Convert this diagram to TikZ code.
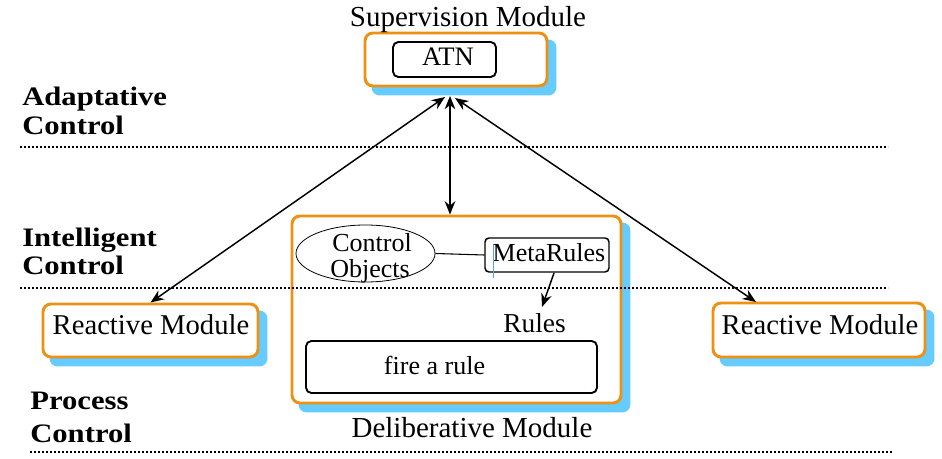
\documentclass[tikz,border=0pt]{standalone}
\usepackage{fontspec}
\setmainfont{Liberation Serif}
\usepackage{graphicx}
\usetikzlibrary{arrows.meta,backgrounds,shapes.geometric}

\definecolor{frameorange}{RGB}{238,144,18}
\definecolor{shadowblue}{RGB}{102,204,255}

\newcommand\pxfont[1]{\fontsize{#1}{#1}\selectfont}
\newcommand\levelname[1]{\scalebox{1.15}[1]{\pxfont{20pt}\bfseries #1}}

\tikzset{
  module/.style={draw=frameorange, line width=2.2pt, fill=white,
    rounded corners=6pt, inner sep=0pt},
  innerbox/.style={draw=black, line width=1.4pt, fill=white,
    rounded corners=4pt, inner sep=0pt},
  txt/.style={anchor=base, inner sep=0pt},
  level/.style={anchor=base west, inner sep=0pt},
  conn/.style={line width=1.1pt, {Stealth[length=10pt,width=8pt]}-{Stealth[length=10pt,width=8pt]}},
  levelline/.style={line width=1.4pt, dash pattern=on 1.6pt off 1.4pt},
}

\begin{document}
\begin{tikzpicture}[x=0.75pt,y=-0.75pt]
\useasboundingbox (0,0) rectangle (942,459);

% module frames
\node[module, minimum width=136.5pt, minimum height=39.75pt] (sup) at (456,59.5) {};
\node[module, minimum width=246.75pt, minimum height=140.25pt] (delib) at (456.5,309.5) {};
\node[module, minimum width=161.25pt, minimum height=39.75pt] (reactL) at (150.5,330.5) {};
\node[module, minimum width=159pt, minimum height=40.5pt] (reactR) at (819,330) {};

% blue drop shadows behind the frames
\begin{scope}[on background layer]
  \foreach \m in {sup,delib,reactL,reactR}{
    \fill[shadowblue, rounded corners=6pt]
      ([shift={(8,8)}]\m.south west) rectangle ([shift={(8,8)}]\m.north east);
  }
\end{scope}

% level separators
\draw[levelline] (20,147) -- (888,147);
\draw[levelline] (20,288) -- (888,288);
\draw[levelline] (30,452) -- (893,452);

% level names
\node[level] (adapt1) at (22,106) {\levelname{Adaptative}};
\node[level] (adapt2) at (22,135) {\levelname{Control}};
\node[level] (intel1) at (22,247) {\levelname{Intelligent}};
\node[level] (intel2) at (22,275) {\levelname{Control}};
\node[level] (proc1) at (30,409) {\levelname{Process}};
\node[level] (proc2) at (30,442) {\levelname{Control}};

% supervision module
\node[txt] (suptitle) at (468,27) {\pxfont{21.75pt}Supervision Module};
\node[innerbox, minimum width=77.25pt, minimum height=26.25pt] (atn) at (444.5,59.5) {};
\node[txt] (atntxt) at (448,66) {\pxfont{20pt}ATN};

% deliberative module content
\node[draw, ellipse, line width=0.6pt, minimum width=104.25pt, minimum height=42.75pt,
      inner sep=0pt] (ctrl) at (365.5,253.5) {};
\node[txt] (ctrl1) at (372,252) {\pxfont{19.5pt}Control};
\node[txt] (ctrl2) at (370,278) {\pxfont{19.5pt}Objects};
\node[innerbox, line width=1.1pt, rounded corners=3pt, minimum width=93pt,
      minimum height=25.5pt] (meta) at (547,255) {};
\node[txt] (metatxt) at (549,262) {\pxfont{19.5pt}MetaRules};
\draw[shadowblue!80!blue, line width=0.6pt] (493,245) -- (493,278);
\draw[line width=0.8pt] (ctrl.east) -- (meta.west);
\coordinate (rulestip) at (542,307);
\draw[line width=1.1pt, -{Stealth[length=10pt,width=8pt]}] (554,273) -- (rulestip);
\node[txt] (rules) at (534.5,333) {\pxfont{20.5pt}Rules};
\node[innerbox, minimum width=218.25pt, minimum height=39pt] (fire) at (451.5,367) {};
\node[txt] (firetxt) at (434.5,375) {\pxfont{19.5pt}fire a rule};
\node[txt] (delibtitle) at (472,437) {\pxfont{21.75pt}Deliberative Module};

% reactive modules
\node[txt] (reactLtxt) at (151,335) {\pxfont{21.5pt}Reactive Module};
\node[txt] (reactRtxt) at (820,335) {\pxfont{21.5pt}Reactive Module};

% links from the supervision module
\coordinate (tipL) at (445,97);
\coordinate (tipM) at (450,96);
\coordinate (tipR) at (455,98);
\coordinate (endR) at (756,302);
\draw[conn] (tipM) -- (tipM |- delib.north);
\draw[conn] (tipL) -- (reactL.north);
\draw[conn] (tipR) -- (endR);
\end{tikzpicture}
\end{document}
